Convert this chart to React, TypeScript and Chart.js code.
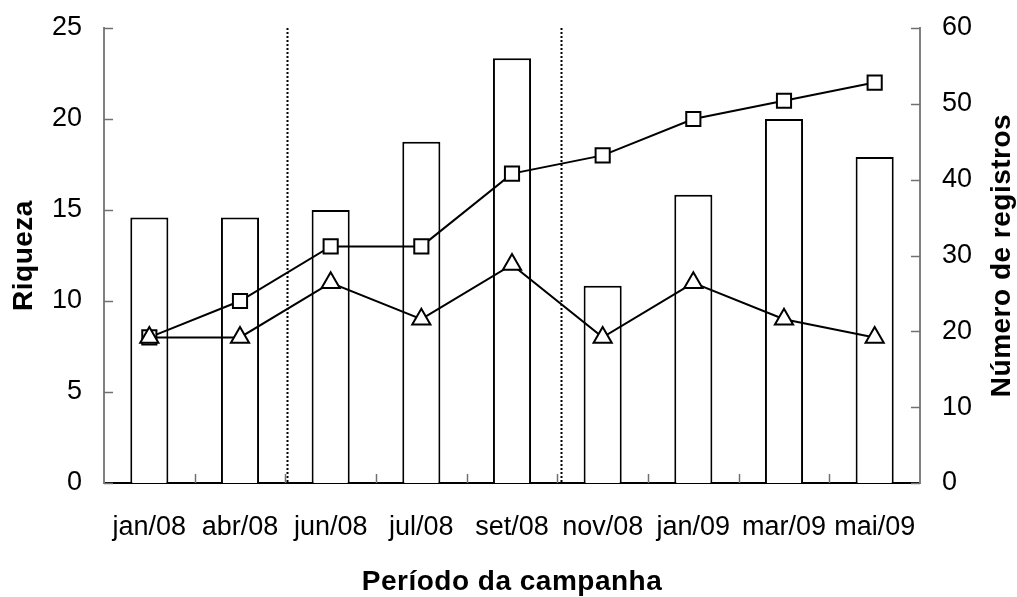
import React, { useEffect, useRef } from 'react';
import { Chart, registerables } from 'chart.js';

Chart.register(...registerables);

const categories = ['jan/08', 'abr/08', 'jun/08', 'jul/08', 'set/08', 'nov/08', 'jan/09', 'mar/09', 'mai/09'];
const registros = [35, 35, 36, 45, 56, 26, 38, 48, 43];
const riquezaAcumulada = [8, 10, 13, 13, 17, 18, 20, 21, 22];
const riqueza = [8, 8, 11, 9, 12, 8, 11, 9, 8];
const dividerPositions = [1.52, 4.54];
const leftTitle = 'Riqueza';
const rightTitle = 'Número de registros';
const bottomTitle = 'Período da campanha';

const FONT = '"Liberation Sans", Arial, Helvetica, sans-serif';

const decorPlugin = {
  id: 'decor',
  beforeDatasetsDraw(chart: any) {
    const { ctx, chartArea, scales } = chart;
    ctx.save();
    ctx.strokeStyle = '#000';
    ctx.lineWidth = 2;
    ctx.setLineDash([2, 2]);
    dividerPositions.forEach((p) => {
      const x = Math.round(scales.x.getPixelForValue(p)) + 0.5;
      ctx.beginPath();
      ctx.moveTo(x, chartArea.top);
      ctx.lineTo(x, chartArea.bottom);
      ctx.stroke();
    });
    ctx.restore();
  },
  afterDraw(chart: any) {
    const { ctx, chartArea, scales } = chart;
    const tl = 9;
    ctx.save();
    ctx.strokeStyle = '#707070';
    ctx.lineWidth = 1.5;
    scales.y.ticks.forEach((t: any) => {
      const y = Math.round(scales.y.getPixelForValue(t.value)) + 0.5;
      ctx.beginPath();
      ctx.moveTo(chartArea.left, y);
      ctx.lineTo(chartArea.left + tl, y);
      ctx.stroke();
    });
    scales.y1.ticks.forEach((t: any) => {
      const y = Math.round(scales.y1.getPixelForValue(t.value)) + 0.5;
      ctx.beginPath();
      ctx.moveTo(chartArea.right - tl, y);
      ctx.lineTo(chartArea.right, y);
      ctx.stroke();
    });
    for (let i = 0; i < categories.length - 1; i++) {
      const x = Math.round(scales.x.getPixelForValue(i + 0.5)) + 0.5;
      ctx.beginPath();
      ctx.moveTo(x, chartArea.bottom);
      ctx.lineTo(x, chartArea.bottom - tl);
      ctx.stroke();
    }
    ctx.fillStyle = '#000';
    ctx.font = `bold 28px ${FONT}`;
    (ctx as any).letterSpacing = '0.5px';
    ctx.textAlign = 'center';
    ctx.textBaseline = 'middle';
    const midY = (chartArea.top + chartArea.bottom) / 2;
    ctx.fillText(bottomTitle, (chartArea.left + chartArea.right) / 2, chartArea.bottom + 99);
    ctx.save();
    ctx.translate(24, midY);
    ctx.rotate(-Math.PI / 2);
    ctx.fillText(leftTitle, 0, 0);
    ctx.restore();
    ctx.save();
    ctx.translate(1002, midY);
    ctx.rotate(-Math.PI / 2);
    ctx.fillText(rightTitle, 0, 0);
    ctx.restore();
    ctx.restore();
  },
};

export default function App() {
  const ref = useRef<HTMLCanvasElement | null>(null);
  useEffect(() => {
    if (!ref.current) return;
    const tickFont = { family: FONT, size: 27 };
    const chart = new Chart(ref.current, {
      type: 'bar',
      data: {
        labels: categories,
        datasets: [
          {
            type: 'line',
            label: 'Riqueza',
            data: riqueza,
            yAxisID: 'y',
            borderColor: '#000',
            borderWidth: 2,
            pointStyle: 'triangle',
            pointRadius: 10.5,
            pointBackgroundColor: '#fff',
            pointBorderColor: '#000',
            pointBorderWidth: 2,
            order: 1,
          } as any,
          {
            type: 'line',
            label: 'Riqueza acumulada',
            data: riquezaAcumulada,
            yAxisID: 'y',
            borderColor: '#000',
            borderWidth: 2,
            pointStyle: 'rect',
            pointRadius: 10,
            pointBackgroundColor: '#fff',
            pointBorderColor: '#000',
            pointBorderWidth: 2,
            order: 2,
          } as any,
          {
            type: 'bar',
            label: 'Número de registros',
            data: registros,
            yAxisID: 'y1',
            backgroundColor: '#fff',
            borderColor: '#000',
            borderWidth: 2,
            barPercentage: 0.42,
            categoryPercentage: 1,
            order: 3,
          } as any,
        ],
      },
      options: {
        responsive: false,
        animation: false,
        layout: { padding: { top: 28, left: 0, right: 0, bottom: 0 } },
        plugins: { legend: { display: false }, tooltip: { enabled: false } },
        scales: {
          x: {
            type: 'category',
            offset: true,
            grid: { display: false, drawTicks: false },
            border: { display: true, color: '#000', width: 2 },
            ticks: { color: '#000', font: tickFont, padding: 28, maxRotation: 0, autoSkip: false },
            afterFit: (s: any) => { s.height = 114; s.paddingLeft = 0; s.paddingRight = 0; },
          },
          y: {
            position: 'left',
            min: 0,
            max: 25,
            grid: { display: false, drawTicks: false },
            border: { display: true, color: '#808080', width: 2 },
            ticks: { stepSize: 5, color: '#000', font: tickFont, padding: 22 },
            afterFit: (s: any) => { s.width = 104; s.paddingTop = 0; s.paddingBottom = 0; },
          },
          y1: {
            position: 'right',
            min: 0,
            max: 60,
            grid: { display: false, drawTicks: false },
            border: { display: true, color: '#808080', width: 2 },
            ticks: { stepSize: 10, color: '#000', font: tickFont, padding: 22 },
            afterFit: (s: any) => { s.width = 97; s.paddingTop = 0; s.paddingBottom = 0; },
          },
        } as any,
      },
      plugins: [decorPlugin],
    });
    return () => chart.destroy();
  }, []);
  return (
    <div style={{ position: 'fixed', left: 0, top: 0, width: 1017, height: 597, background: '#fff' }}>
      <canvas ref={ref} width={1017} height={597} style={{ display: 'block' }} />
    </div>
  );
}
